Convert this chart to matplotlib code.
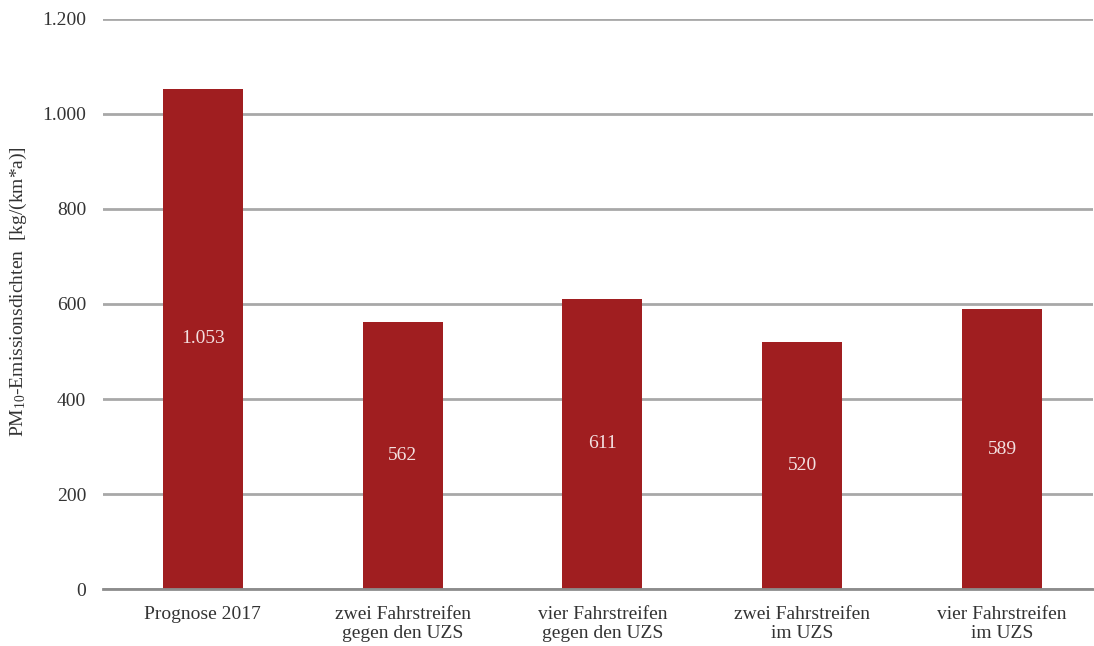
import matplotlib.pyplot as plt
from matplotlib.ticker import FuncFormatter

# Kategorien und Werte der PM10-Emissionsdichten
categories = ['Prognose 2017', 'zwei Fahrstreifen\ngegen den UZS', 'vier Fahrstreifen\ngegen den UZS',
              'zwei Fahrstreifen\nim UZS', 'vier Fahrstreifen\nim UZS']
values = [1053, 562, 611, 520, 589]
value_labels = ['1.053', '562', '611', '520', '589']
y_ticks = [0, 200, 400, 600, 800, 1000, 1200]

bar_color = '#A01E20'
grid_color = '#A8A8A8'


def tausender(x, pos):
    return f'{int(x):,}'.replace(',', '.')


def main():
    plt.rcParams['font.family'] = ['Liberation Serif', 'DejaVu Serif']
    plt.rcParams['mathtext.default'] = 'regular'

    fig = plt.figure(figsize=(10.94, 6.46), dpi=100)
    ax = fig.add_axes([0.094, 0.088, 0.905, 0.883])

    x = range(len(categories))
    ax.bar(x, values, width=0.4, color=bar_color, zorder=3)
    for xi, v, lab in zip(x, values, value_labels):
        ax.text(xi, v / 2, lab, ha='center', va='center', color='#F3E0E0', fontsize=14, zorder=4)

    ax.set_xlim(-0.5, 4.455)
    ax.set_ylim(0, 1200)
    ax.set_yticks(y_ticks)
    ax.yaxis.set_major_formatter(FuncFormatter(tausender))
    ax.set_xticks(list(x))
    ax.set_xticklabels(categories, fontsize=14, color='#333333', linespacing=1.15)
    ax.tick_params(axis='y', labelsize=14, labelcolor='#333333', length=0, pad=12)
    ax.tick_params(axis='x', length=0, pad=12)

    ax.yaxis.grid(True, color=grid_color, linewidth=2, zorder=0)
    for s in ['top', 'right', 'left']:
        ax.spines[s].set_visible(False)
    ax.spines['bottom'].set_color('#8C8C8C')
    ax.spines['bottom'].set_linewidth(2)
    ax.spines['bottom'].set_zorder(5)

    # Achsentitel links, frei positioniert
    fig.text(0.017, 0.548, 'PM$_{10}$-Emissionsdichten  [kg/(km*a)]', rotation=90,
             ha='center', va='center', fontsize=14, color='#333333')

    fig.savefig('out.png', dpi=100)


if __name__ == '__main__':
    main()
